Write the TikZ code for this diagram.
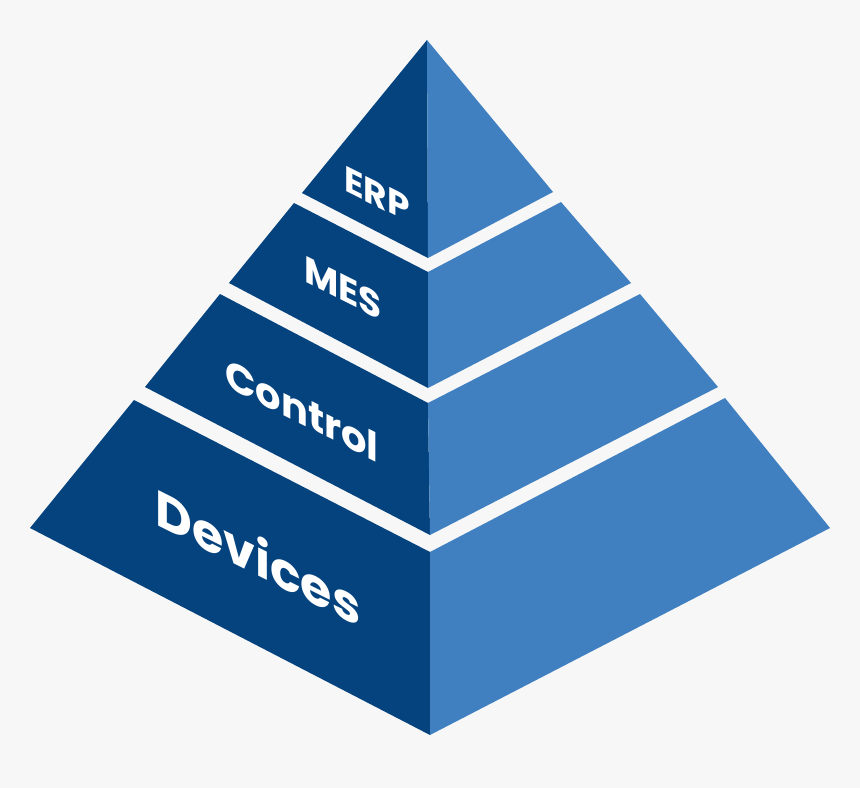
\documentclass[tikz,border=0pt]{standalone}
\usepackage{fontspec}
\setmainfont{Poppins}
\begin{document}
\begin{tikzpicture}[x=0.75pt,y=-0.75pt]
\definecolor{dk}{HTML}{05437F}
\definecolor{lt}{HTML}{4080C0}
\definecolor{bg}{HTML}{F7F7F7}
\tikzset{lbl/.style={text=white,font=\bfseries,yslant=-0.5,inner sep=0pt}}
\fill[bg] (0,0) rectangle (860,788);
\useasboundingbox (0,0) rectangle (860,788);
% ERP
\fill[dk] (427,40) -- (302,193) -- (428,258) -- cycle;
\fill[lt] (427,40) -- (428,258) -- (553,192) -- cycle;
% MES
\fill[dk] (294,203) -- (428,272) -- (428,388) -- (229,283) -- cycle;
\fill[lt] (428,272) -- (561,202) -- (631,283) -- (428,388) -- cycle;
% Control
\fill[dk] (220,294) -- (428,403) -- (430,535) -- (145,387) -- cycle;
\fill[lt] (428,403) -- (640,294) -- (718,387) -- (430,535) -- cycle;
% Devices
\fill[dk] (134,400) -- (430,552) -- (430,735) -- (30,528) -- cycle;
\fill[lt] (430,552) -- (725,398) -- (830,528) -- (430,735) -- cycle;
\node[lbl,font=\bfseries\fontsize{27}{30}\selectfont] (erp) at (377,194) {ERP};
\node[lbl,font=\bfseries\fontsize{28}{30}\selectfont] (mes) at (343,288) {MES};
\node[lbl,font=\bfseries\fontsize{30}{32}\selectfont] (ctl) at (302,410) {Control};
\node[lbl,font=\bfseries\fontsize{38}{40}\selectfont] (dev) at (258,556) {Devices};
\end{tikzpicture}
\end{document}
